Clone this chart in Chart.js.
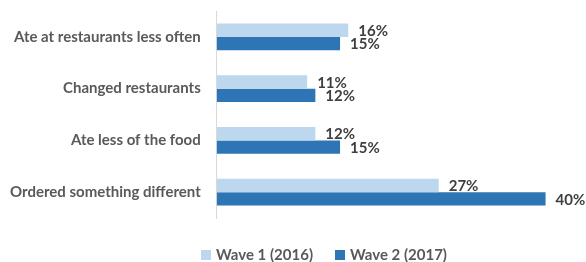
<!DOCTYPE html>
<html>
<head>
<meta charset="utf-8">
<script src="https://cdn.jsdelivr.net/npm/chart.js@4"></script>
<style>
  html, body { margin: 0; padding: 0; background: #fff; }
  #wrap { width: 586px; height: 262px; }
</style>
</head>
<body>
<div id="wrap"><canvas id="restChart" width="586" height="262"></canvas></div>
<script>
const categories = ['Ate at restaurants less often', 'Changed restaurants', 'Ate less of the food', 'Ordered something different'];
const wave1 = [16, 11, 12, 27];
const wave2 = [15, 12, 15, 40];
const seriesNames = ['Wave 1 (2016)', 'Wave 2 (2017)'];
const seriesColors = ['#BDD7EE', '#2E75B6'];

const FONT = 'Lato, "Liberation Sans", sans-serif';

// value labels to the right of each bar
const barLabels = {
  id: 'barLabels',
  afterDatasetsDraw(chart) {
    const { ctx } = chart;
    ctx.save();
    ctx.font = 'bold 15px ' + FONT;
    ctx.fillStyle = '#404040';
    ctx.textAlign = 'left';
    ctx.textBaseline = 'middle';
    chart.data.datasets.forEach((ds, i) => {
      chart.getDatasetMeta(i).data.forEach((bar, j) => {
        ctx.fillText(ds.data[j] + '%', bar.x + 10, bar.y + 1);
      });
    });
    ctx.restore();
  }
};

// legend drawn by hand so spacing and position follow the original
const bottomLegend = {
  id: 'bottomLegend',
  afterDraw(chart) {
    const { ctx } = chart;
    ctx.save();
    ctx.font = 'bold 15px ' + FONT;
    ctx.textBaseline = 'middle';
    const box = 10, gap = 5, between = 22;
    const items = chart.data.datasets.map(ds => ({ text: ds.label, color: ds.backgroundColor }));
    let total = 0;
    items.forEach((it, i) => {
      it.w = ctx.measureText(it.text).width;
      total += box + gap + it.w + (i ? between : 0);
    });
    let x = 324 - total / 2;
    const y = 255;
    items.forEach(it => {
      ctx.fillStyle = it.color;
      ctx.fillRect(x, y - box / 2, box, box);
      ctx.fillStyle = '#595959';
      ctx.fillText(it.text, x + box + gap, y);
      x += box + gap + it.w + between;
    });
    ctx.restore();
  }
};

const ctx1 = document.getElementById('restChart').getContext('2d');

new Chart(ctx1, {
  type: 'bar',
  data: {
    labels: categories,
    datasets: [{
      label: seriesNames[0],
      data: wave1,
      backgroundColor: seriesColors[0],
      borderWidth: 0
    }, {
      label: seriesNames[1],
      data: wave2,
      backgroundColor: seriesColors[1],
      borderWidth: 0
    }]
  },
  options: {
    indexAxis: 'y',
    responsive: false,
    animation: false,
    categoryPercentage: 0.52,
    barPercentage: 1,
    layout: { padding: { left: 8, right: 24, top: 10, bottom: 44 } },
    scales: {
      x: {
        display: false,
        min: 0,
        max: 42
      },
      y: {
        grid: { display: true, drawOnChartArea: false, drawTicks: true, tickLength: 14, color: 'rgba(0,0,0,0)' },
        border: { display: true, color: '#D9D9D9', width: 1 },
        ticks: {
          padding: 2,
          color: '#595959',
          font: { family: FONT, size: 15, weight: 'bold' }
        }
      }
    },
    plugins: {
      legend: { display: false },
      tooltip: { enabled: false }
    }
  },
  plugins: [barLabels, bottomLegend]
});
</script>
</body>
</html>
